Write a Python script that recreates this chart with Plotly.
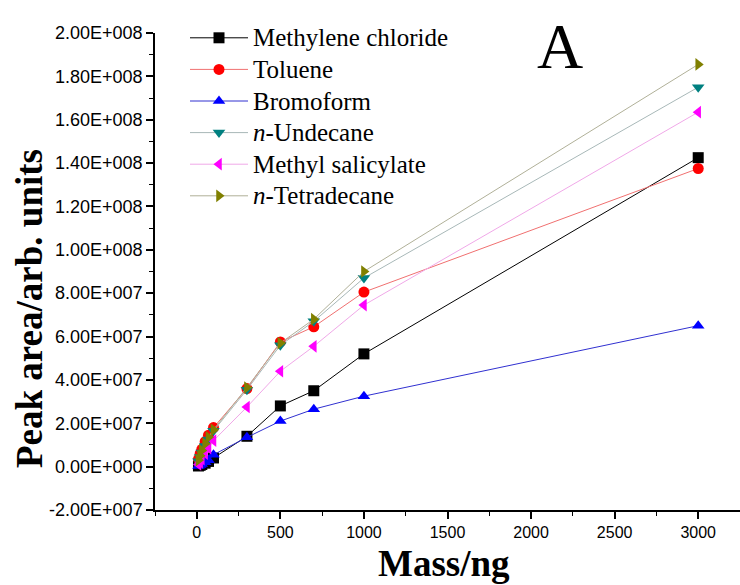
import plotly.graph_objects as go

mass = [10, 20, 30, 50, 70, 100, 300, 500, 700, 1000, 3000]

methylene_chloride = [0.3e6, 0.6e6, 1.0e6, 1.6e6, 2.4e6, 4.0e6, 1.40e7, 2.80e7, 3.50e7, 5.20e7, 1.425e8]
toluene = [3.5e6, 6.0e6, 8.0e6, 1.15e7, 1.45e7, 1.80e7, 3.60e7, 5.75e7, 6.45e7, 8.05e7, 1.375e8]
bromoform = [0.3e6, 0.8e6, 1.2e6, 2.0e6, 3.0e6, 5.5e6, 1.35e7, 2.10e7, 2.65e7, 3.25e7, 6.50e7]
undecane = [2.5e6, 4.5e6, 6.5e6, 9.5e6, 1.25e7, 1.65e7, 3.55e7, 5.60e7, 6.70e7, 8.70e7, 1.750e8]
methyl_salicylate = [1.0e6, 2.0e6, 3.5e6, 6.0e6, 8.5e6, 1.20e7, 2.75e7, 4.40e7, 5.55e7, 7.45e7, 1.635e8]
tetradecane = [3.0e6, 5.0e6, 7.5e6, 1.05e7, 1.35e7, 1.70e7, 3.65e7, 5.70e7, 6.80e7, 9.00e7, 1.855e8]

series_names = ["Methylene chloride", "Toluene", "Bromoform",
                "<i>n</i>-Undecane", "Methyl salicylate", "<i>n</i>-Tetradecane"]
series_values = [methylene_chloride, toluene, bromoform, undecane, methyl_salicylate, tetradecane]
marker_colors = ["#000000", "#ff0000", "#0000ff", "#008080", "#ff00ff", "#808000"]
line_colors = ["#000000", "#f07070", "#3030d0", "#a8b8b8", "#f0a8e8", "#b0b098"]
marker_symbols = ["square", "circle", "triangle-up", "triangle-down", "triangle-left", "triangle-right"]

y_tickvals = [-2e7, 0, 2e7, 4e7, 6e7, 8e7, 1e8, 1.2e8, 1.4e8, 1.6e8, 1.8e8, 2e8]
y_ticktext = ["-2.00E+007", "0.00E+000", "2.00E+007", "4.00E+007", "6.00E+007", "8.00E+007",
              "1.00E+008", "1.20E+008", "1.40E+008", "1.60E+008", "1.80E+008", "2.00E+008"]
x_tickvals = [0, 500, 1000, 1500, 2000, 2500, 3000]
x_ticktext = ["0", "500", "1000", "1500", "2000", "2500", "3000"]

# plot area in pixels: x 155..740, y 33..510
L, R, T, B = 155, 740, 33, 510
W, H = R - L, B - T

def px(xp):
    return (xp - L) / W

def py(yp):
    return (B - yp) / H

fig = go.Figure()
for i, (name, vals) in enumerate(zip(series_names, series_values)):
    fig.add_trace(go.Scatter(
        x=mass, y=vals, name=f"<span style='font-size:25px'>{name}</span>",
        mode="lines+markers",
        legendgroup=f"g{i}",
        line=dict(color=line_colors[i], width=1),
        marker=dict(symbol=marker_symbols[i], color=marker_colors[i], size=11,
                    line=dict(width=0)),
    ))

fig.add_annotation(text="A", xref="paper", yref="paper", x=px(560), y=py(46),
                   xanchor="center", yanchor="middle", showarrow=False,
                   font=dict(family="Liberation Serif", size=64, color="black"))
fig.add_annotation(text="<b>Peak area/arb. units</b>", xref="paper", yref="paper",
                   x=px(29), y=py(309), xanchor="center", yanchor="middle",
                   textangle=-90, showarrow=False,
                   font=dict(family="Liberation Serif", size=37, color="black"))
fig.add_annotation(text="<b>Mass/ng</b>", xref="paper", yref="paper",
                   x=px(444), y=py(585), xanchor="center", yanchor="bottom",
                   showarrow=False, borderpad=0,
                   font=dict(family="Liberation Serif", size=37, color="black"))

fig.update_layout(
    width=740, height=585,
    margin=dict(l=L, r=740 - R, t=T, b=585 - B),
    paper_bgcolor="white", plot_bgcolor="white",
    showlegend=True,
    legend=dict(x=px(185), y=py(17), xanchor="left", yanchor="top",
                font=dict(family="Liberation Serif", size=22, color="black"),
                bgcolor="rgba(0,0,0,0)", tracegroupgap=0, itemwidth=58),
    xaxis=dict(range=[-250, 3250], tickmode="array", tickvals=x_tickvals, ticktext=x_ticktext,
               ticks="outside", ticklen=7, tickwidth=1.5, tickcolor="black",
               showline=True, linecolor="black", linewidth=1.5, showgrid=False, zeroline=False,
               minor=dict(dtick=250, tick0=-250, ticks="outside", ticklen=4, tickwidth=1.2, tickcolor="black"),
               tickfont=dict(family="Liberation Sans", size=16, color="black")),
    yaxis=dict(range=[-2e7, 2e8], tickmode="array", tickvals=y_tickvals, ticktext=y_ticktext,
               ticks="outside", ticklen=7, tickwidth=1.5, tickcolor="black",
               showline=True, linecolor="black", linewidth=1.5, showgrid=False, zeroline=False,
               minor=dict(dtick=1e7, tick0=0, ticks="outside", ticklen=4, tickwidth=1.2, tickcolor="black"),
               tickfont=dict(family="Liberation Sans", size=18, color="black")),
)

fig.write_html("out.html")
